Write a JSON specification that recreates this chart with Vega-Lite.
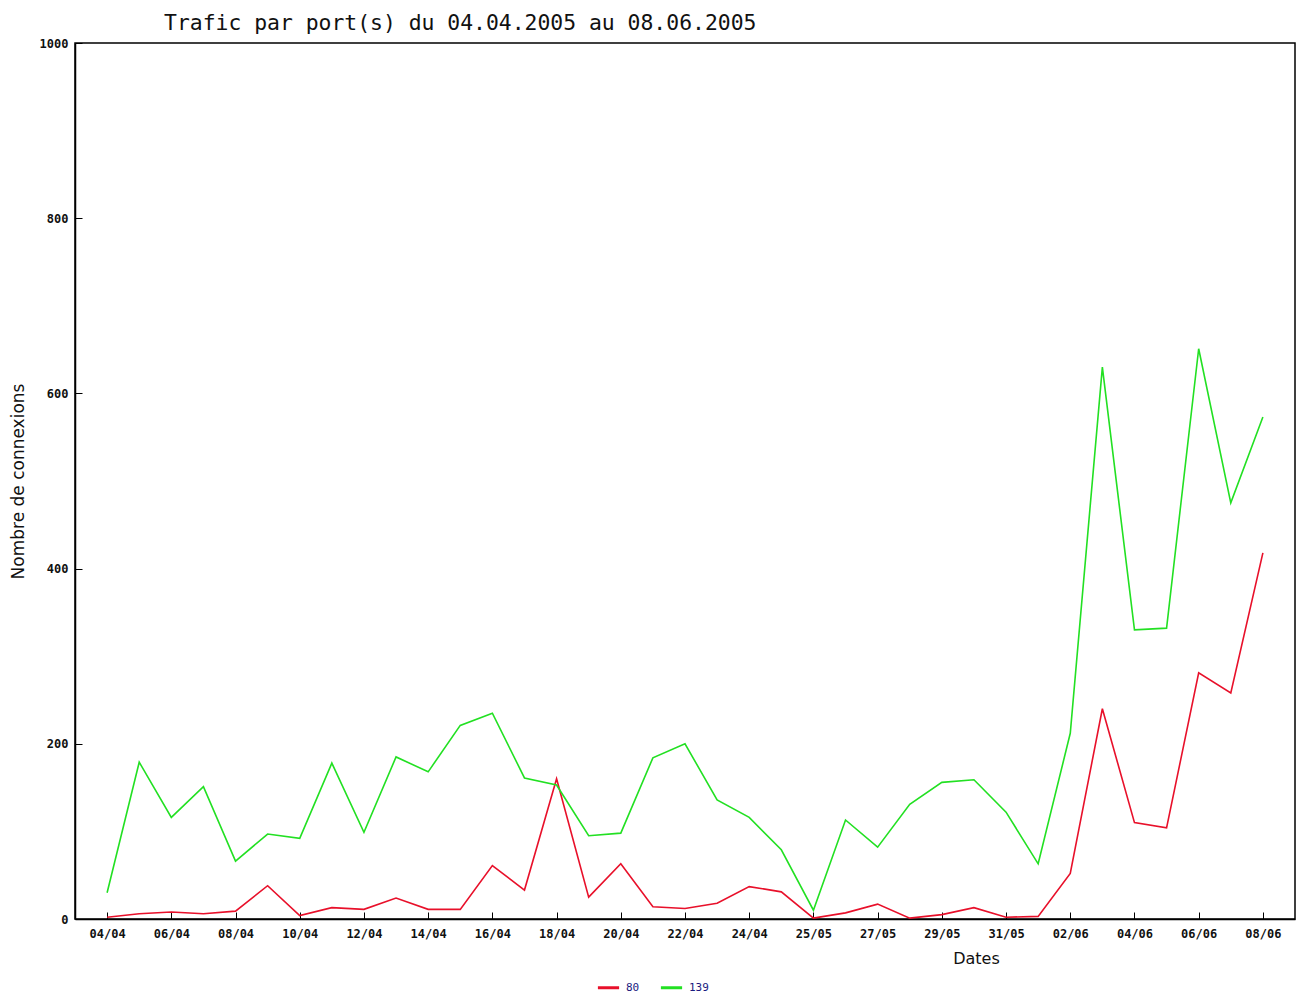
{
  "$schema": "https://vega.github.io/schema/vega-lite/v6.json",
  "width": 1220,
  "height": 876,
  "autosize": {"type": "none"},
  "padding": {"left": 75, "top": 43, "right": 11, "bottom": 80},
  "background": "white",
  "title": {
    "text": "Trafic par port(s) du 04.04.2005 au 08.06.2005",
    "anchor": "start",
    "frame": "group",
    "dx": 89,
    "offset": 3,
    "font": "DejaVu Sans Mono",
    "fontSize": 21.4,
    "fontWeight": "normal",
    "color": "#111111"
  },
  "data": {
    "values": [
      {"d": "04/04", "p80": 2, "p139": 30},
      {"d": "05/04", "p80": 6, "p139": 179},
      {"d": "06/04", "p80": 8, "p139": 116},
      {"d": "07/04", "p80": 6, "p139": 151},
      {"d": "08/04", "p80": 9, "p139": 66},
      {"d": "09/04", "p80": 38, "p139": 97},
      {"d": "10/04", "p80": 4, "p139": 92},
      {"d": "11/04", "p80": 13, "p139": 178},
      {"d": "12/04", "p80": 11, "p139": 99},
      {"d": "13/04", "p80": 24, "p139": 185},
      {"d": "14/04", "p80": 11, "p139": 168},
      {"d": "15/04", "p80": 11, "p139": 221},
      {"d": "16/04", "p80": 61, "p139": 235},
      {"d": "17/04", "p80": 33, "p139": 161},
      {"d": "18/04", "p80": 160, "p139": 153},
      {"d": "19/04", "p80": 25, "p139": 95},
      {"d": "20/04", "p80": 63, "p139": 98},
      {"d": "21/04", "p80": 14, "p139": 184},
      {"d": "22/04", "p80": 12, "p139": 200},
      {"d": "23/04", "p80": 18, "p139": 136},
      {"d": "24/04", "p80": 37, "p139": 116},
      {"d": "25/04", "p80": 31, "p139": 79},
      {"d": "25/05", "p80": 1, "p139": 10},
      {"d": "26/05", "p80": 7, "p139": 113},
      {"d": "27/05", "p80": 17, "p139": 82},
      {"d": "28/05", "p80": 1, "p139": 131},
      {"d": "29/05", "p80": 5, "p139": 156},
      {"d": "30/05", "p80": 13, "p139": 159},
      {"d": "31/05", "p80": 2, "p139": 122},
      {"d": "01/06", "p80": 3, "p139": 63},
      {"d": "02/06", "p80": 52, "p139": 212},
      {"d": "03/06", "p80": 240, "p139": 630},
      {"d": "04/06", "p80": 110, "p139": 330},
      {"d": "05/06", "p80": 104, "p139": 332},
      {"d": "06/06", "p80": 281, "p139": 651},
      {"d": "07/06", "p80": 258, "p139": 475},
      {"d": "08/06", "p80": 418, "p139": 573}
    ]
  },
  "transform": [
    {"fold": ["p80", "p139"], "as": ["key", "n"]},
    {"lookup": "key", "from": {"data": {"values": [{"key": "p80", "port": "80"}, {"key": "p139", "port": "139"}]}, "key": "key", "fields": ["port"]}}
  ],
  "mark": {"type": "line", "strokeWidth": 1.6},
  "encoding": {
    "x": {
      "field": "d",
      "type": "ordinal",
      "sort": null,
      "scale": {"type": "point", "padding": 1},
      "axis": {
        "values": ["04/04", "06/04", "08/04", "10/04", "12/04", "14/04", "16/04", "18/04", "20/04", "22/04", "24/04", "25/05", "27/05", "29/05", "31/05", "02/06", "04/06", "06/06", "08/06"],
        "labelAngle": 0,
        "labelFont": "DejaVu Sans Mono",
        "labelFontSize": 12,
        "labelFontWeight": "bold",
        "labelColor": "#111111",
        "labelPadding": 16,
        "tickSize": -7,
        "tickColor": "#000000",
        "domainColor": "#000000",
        "domainWidth": 1.5,
        "grid": false,
        "title": "Dates",
        "titleFont": "DejaVu Sans",
        "titleFontSize": 16,
        "titleFontWeight": "normal",
        "titleColor": "#111111",
        "titleX": 901,
        "titleY": 31,
        "titleBaseline": "top"
      }
    },
    "y": {
      "field": "n",
      "type": "quantitative",
      "scale": {"domain": [0, 1000], "nice": false},
      "axis": {
        "values": [0, 200, 400, 600, 800, 1000],
        "format": "d",
        "labelFont": "DejaVu Sans Mono",
        "labelFontSize": 12,
        "labelFontWeight": "bold",
        "labelColor": "#111111",
        "labelPadding": 14,
        "tickSize": -7,
        "tickColor": "#000000",
        "domainColor": "#000000",
        "domainWidth": 1.5,
        "grid": false,
        "title": "Nombre de connexions",
        "titleFont": "DejaVu Sans",
        "titleFontSize": 17,
        "titleFontWeight": "normal",
        "titleColor": "#111111",
        "titlePadding": 12
      }
    },
    "color": {
      "field": "port",
      "type": "nominal",
      "sort": ["80", "139"],
      "scale": {"domain": ["80", "139"], "range": ["#e8102a", "#22e022"]},
      "legend": {
        "title": null,
        "orient": "none",
        "direction": "horizontal",
        "legendX": 521,
        "legendY": 932,
        "symbolType": "stroke",
        "symbolStrokeWidth": 3,
        "symbolSize": 450,
        "labelFont": "DejaVu Sans Mono",
        "labelFontSize": 11,
        "labelColor": "#1a1a80",
        "columnPadding": 14,
        "labelOffset": 5
      }
    }
  },
  "config": {
    "view": {"stroke": "#000000", "strokeWidth": 1.5}
  }
}
